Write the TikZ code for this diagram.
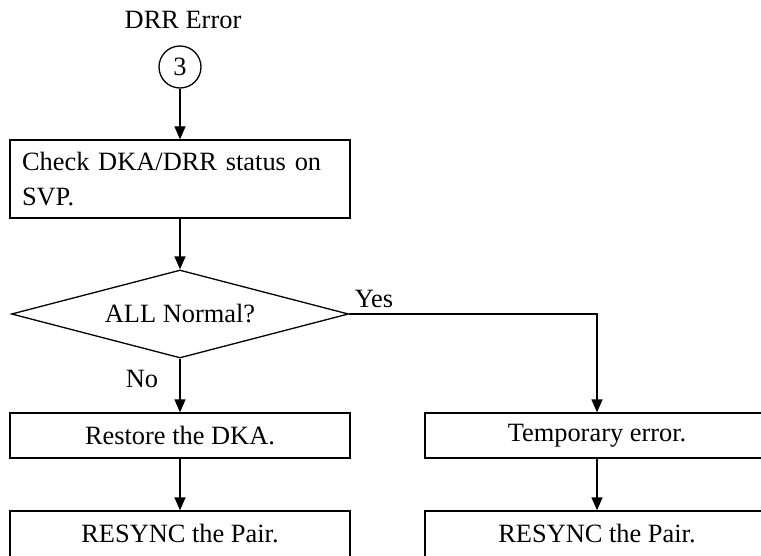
\documentclass[tikz,border=0pt]{standalone}
\usepackage{fontspec}
\setmainfont{Liberation Serif}
\usetikzlibrary{
	arrows.meta,
	shapes.geometric,
	positioning
}

\begin{document}
\begin{tikzpicture}[x=0.5pt, y=-0.5pt, line width=0.65pt,
		font=\fontsize{13.2}{17.5}\selectfont,
		box/.style={draw, rectangle, inner sep=0pt, minimum width=170pt, minimum height=22.5pt},
		arr/.style={-{Triangle[length=6.5pt, width=5.5pt]}}]
		\useasboundingbox (0,0) rectangle (761,556);
		\clip (0,0) rectangle (761,556);
		% start
		\node (title) at (183,20) {DRR Error};
		\node[draw, circle, minimum size=21pt, inner sep=0pt] (start) at (180,67) {3};
		\node[box, minimum height=39pt, text width=158pt, align=left] (check) at (180,179) {Check DKA/DRR status on\\SVP.};
		\node[draw, diamond, aspect=3.83, inner sep=0pt, minimum width=168.5pt, minimum height=44pt] (ok) at (180,314) {ALL Normal?};
		% No branch
		\node[box] (restore) at (180,435.5) {Restore the DKA.};
		\node[box, minimum height=23pt] (resyncL) at (180,534) {RESYNC the Pair.};
		% Yes branch
		\node[box, minimum width=172pt] (temp) at (597,435.5) {Temporary error.};
		\node[box, minimum width=172pt, minimum height=23pt] (resyncR) at (597,534) {RESYNC the Pair.};
		\node (yes) at (374,299) {Yes};
		\node (no) at (142,379) {No};
		\foreach \a/\b in {start/check, check/ok, ok/restore, restore/resyncL, temp/resyncR}
		\draw[arr] (\a) -- (\b);
		\draw[arr] (ok.east) -| (temp.north);
	\end{tikzpicture}
\end{document}
